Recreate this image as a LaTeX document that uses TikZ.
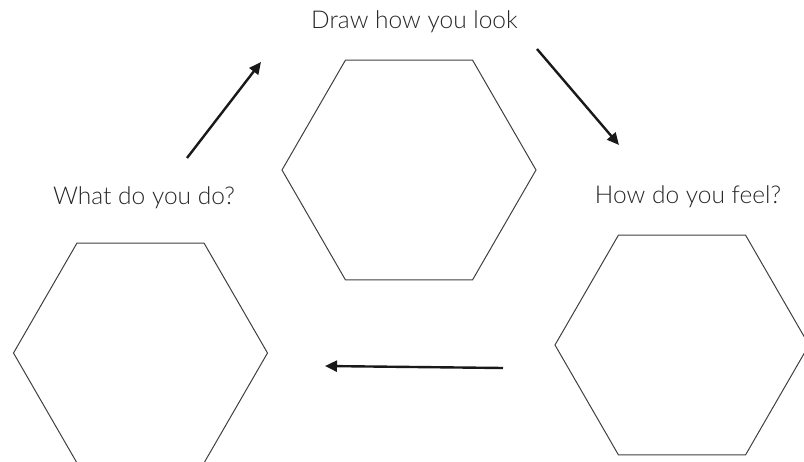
\documentclass[tikz,border=0pt]{standalone}
\usepackage{fontspec}
\setmainfont{Lato}[UprightFont=* Light]
\usetikzlibrary{arrows.meta,shapes.geometric}

\tikzset{
  hexcell/.style={draw=black!75, line width=1pt, regular polygon, regular polygon sides=6,
    minimum size=254pt, inner sep=0pt, outer sep=0pt},
  steplabel/.style={anchor=base, text=black!85, font=\fontsize{24.5}{28}\selectfont},
  cyclearrow/.style={-{Triangle[length=12pt,width=11pt]}, line width=2.4pt, black!90}
}

\begin{document}
\begin{tikzpicture}[x=1pt, y=-1pt]
        % fixed page size (px of the reference)
        \useasboundingbox (0,0) rectangle (804,461);

        % the three hexagons
        \node[hexcell] (look) at (409,170) {};
        \node[hexcell] (feel) at (682,345) {};
        \node[hexcell] (act)  at (140.5,353) {};

        % labels
        \node[steplabel] (looktext) at (414.5,28) {Draw how you look};
        \node[steplabel] (feeltext) at (688,203) {How do you feel?};
        \node[steplabel] (acttext)  at (144,204) {What do you do?};

        % arrow ends
        \coordinate (a1s) at (187,158);  \coordinate (a1e) at (261,62);
        \coordinate (a2s) at (537,49);   \coordinate (a2e) at (619,145);
        \coordinate (a3s) at (503,368);  \coordinate (a3e) at (325,366);

        \draw[cyclearrow] (a1s) -- (a1e);
        \draw[cyclearrow] (a2s) -- (a2e);
        \draw[cyclearrow] (a3s) -- (a3e);
\end{tikzpicture}
\end{document}
